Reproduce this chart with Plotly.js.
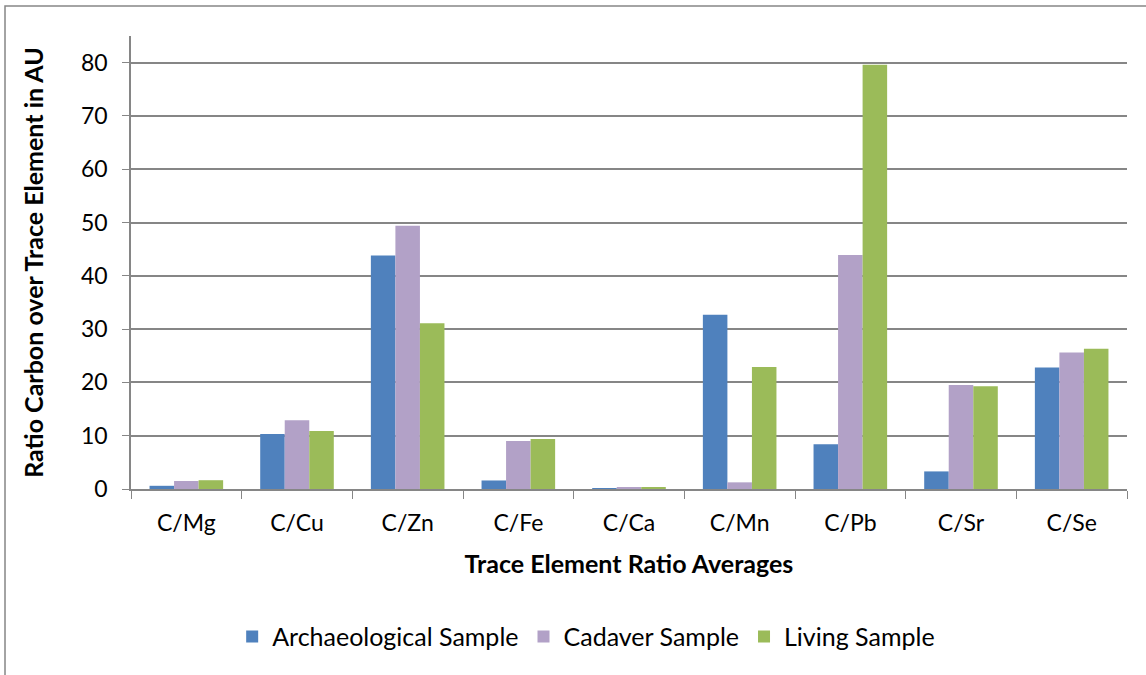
<!DOCTYPE html>
<html>
<head>
<meta charset="utf-8">
<script src="https://cdn.plot.ly/plotly-3.0.1.min.js"></script>
<style>
  body { margin: 0; background: #fff; }
  #myDiv { width: 1146px; height: 675px; }
</style>
</head>
<body>
<div id="myDiv"></div>
<script>
var ratios = ['C/Mg', 'C/Cu', 'C/Zn', 'C/Fe', 'C/Ca', 'C/Mn', 'C/Pb', 'C/Sr', 'C/Se'];
var archaeological = [0.6, 10.3, 43.8, 1.6, 0.03, 32.7, 8.4, 3.3, 22.8];
var cadaver = [1.5, 12.9, 49.4, 9.0, 0.3, 1.25, 43.9, 19.5, 25.6];
var living = [1.65, 10.9, 31.1, 9.4, 0.3, 22.9, 79.6, 19.3, 26.3];

var font = 'Lato, "Open Sans", sans-serif';

var trace1 = {
    x: ratios,
    y: archaeological,
    type: 'bar',
    name: 'Archaeological Sample',
    marker: { color: '#4F81BD' }
};

var trace2 = {
    x: ratios,
    y: cadaver,
    type: 'bar',
    name: 'Cadaver Sample',
    marker: { color: '#B2A1C7' }
};

var trace3 = {
    x: ratios,
    y: living,
    type: 'bar',
    name: 'Living Sample',
    marker: { color: '#9BBB59' }
};

var data = [trace1, trace2, trace3];

var layout = {
    width: 1146,
    height: 675,
    margin: { l: 131, r: 19, t: 36, b: 186 },
    paper_bgcolor: '#fff',
    plot_bgcolor: '#fff',
    font: { family: font, size: 23, color: '#000' },
    barmode: 'group',
    bargap: 0.335,
    bargroupgap: 0,
    xaxis: {
        type: 'category',
        tickson: 'boundaries',
        ticks: 'outside',
        ticklen: 8,
        tickcolor: '#868686',
        showline: true,
        linecolor: '#868686',
        linewidth: 1.5,
        showgrid: false,
        ticklabelstandoff: 13,
        title: {
            text: '<b>Trace Element Ratio Averages</b>',
            font: { size: 25 },
            standoff: 20
        }
    },
    yaxis: {
        range: [0, 85],
        dtick: 10,
        ticks: 'outside',
        ticklen: 7,
        tickcolor: '#868686',
        showline: true,
        linecolor: '#868686',
        linewidth: 1.5,
        gridcolor: '#868686',
        gridwidth: 1.5,
        zeroline: false,
        ticklabelstandoff: 10,
        title: {
            text: '<b>Ratio Carbon over Trace Element in AU</b>',
            font: { size: 25 },
            standoff: 30
        }
    },
    showlegend: true,
    legend: {
        orientation: 'h',
        x: 0.457,
        xanchor: 'center',
        y: -0.326,
        yanchor: 'middle',
        font: { size: 25 },
        itemwidth: 30
    },
    shapes: [{
        type: 'rect',
        xref: 'paper',
        yref: 'paper',
        x0: -0.1265,
        x1: 1.03,
        y0: -0.45,
        y1: 1.066,
        line: { color: '#868686', width: 1.5 }
    }]
};

Plotly.newPlot('myDiv', data, layout, { displayModeBar: false });
</script>
</body>
</html>
